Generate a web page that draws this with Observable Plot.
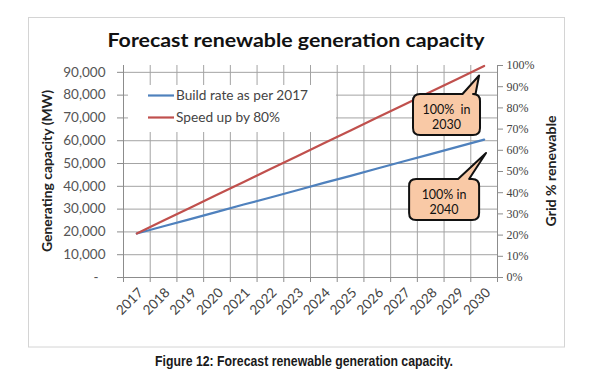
<!DOCTYPE html>
<html>
<head>
<meta charset="utf-8">
<script src="https://cdn.jsdelivr.net/npm/d3@7"></script>
<script src="https://cdn.jsdelivr.net/npm/@observablehq/plot@0.6"></script>
<style>
  html, body { margin: 0; padding: 0; background: #fff; }
  #chart svg { display: block; }
</style>
</head>
<body>
<div id="chart"></div>
<script>
// ---- data ----
const years = [2017, 2018, 2019, 2020, 2021, 2022, 2023, 2024, 2025, 2026, 2027, 2028, 2029, 2030];
const seriesNames = ["Build rate as per 2017", "Speed up by 80%"];
const seriesColors = ["#4F81BD", "#C0504D"];
const buildRate = [19300, 22500, 25600, 28800, 32000, 35100, 38300, 41500, 44600, 47800, 51000, 54100, 57300, 60500];
const speedUp   = [19300, 25000, 30600, 36300, 41900, 47600, 53200, 58900, 64500, 70200, 75800, 81500, 87100, 92800];
const yTicks = [0, 10000, 20000, 30000, 40000, 50000, 60000, 70000, 80000, 90000];
const pctTicks = [0, 10, 20, 30, 40, 50, 60, 70, 80, 90, 100];
const fullMW = 93000; // capacity equal to 100% renewable grid (top of the chart)
const yearBounds = [2016.5, 2017.5, 2018.5, 2019.5, 2020.5, 2021.5, 2022.5, 2023.5, 2024.5, 2025.5, 2026.5, 2027.5, 2028.5, 2029.5, 2030.5];
const callouts = [
  {lines: ["100%  in", "2030"], boxYear: 2028.61, boxValue: 71300, tipYear: 2029.83, tipValue: 88400},
  {lines: ["100% in", "2040"], boxYear: 2028.52, boxValue: 34000, tipYear: 2030.09, tipValue: 54400}
];
const titleText = "Forecast renewable generation capacity";
const yLabel = "Generating capacity (MW)";
const y2Label = "Grid % renewable";
const captionText = "Figure 12: Forecast renewable generation capacity.";

const rows = [];
years.forEach((yr, i) => {
  rows.push({year: yr, value: buildRate[i], series: seriesNames[0]});
  rows.push({year: yr, value: speedUp[i], series: seriesNames[1]});
});

const grid = "#a3a3a3";
const axisCol = "#8c8c8c";

const plot = Plot.plot({
  width: 590,
  height: 380,
  marginLeft: 123,
  marginRight: 93,
  marginTop: 65,
  marginBottom: 103,
  style: {fontFamily: "Lato, 'Open Sans', sans-serif", background: "#fff", overflow: "visible"},
  x: {domain: [2016.5, 2030.5]},
  y: {domain: [0, fullMW]},
  color: {domain: seriesNames, range: seriesColors},
  marks: [
    Plot.gridY(yTicks, {stroke: grid, strokeOpacity: 1}),
    Plot.gridX(yearBounds, {stroke: grid, strokeOpacity: 1}),
    Plot.ruleY([0], {stroke: axisCol}),
    Plot.ruleX([2016.5, 2030.5], {stroke: axisCol}),
    Plot.axisY(yTicks, {
      anchor: "left", tickSize: 6, tickPadding: 12, label: null,
      tickFormat: d => d === 0 ? "-\u00a0\u00a0" : d3.format(",")(d),
      fontSize: 13.5, fill: "#555", stroke: axisCol
    }),
    Plot.axisY(pctTicks.map(p => p / 100 * fullMW), {
      anchor: "right", tickSize: 5, tickPadding: 4, label: null,
      tickFormat: d => Math.round(d / fullMW * 100) + "%",
      fontFamily: "'Liberation Serif', serif", fontSize: 12, fill: "#444", stroke: axisCol
    }),
    Plot.axisX(yearBounds, {anchor: "bottom", tickSize: 5, tickFormat: () => "", label: null, stroke: axisCol}),
    Plot.axisX(years, {
      anchor: "bottom", tickSize: 0, tickPadding: 13, dx: 4, tickRotate: -45, label: null,
      tickFormat: d => String(d), fontSize: 13.5, fill: "#444"
    }),
    Plot.line(rows, {x: "year", y: "value", z: "series", stroke: "series", strokeWidth: 2.2})
  ]
});

document.getElementById("chart").appendChild(plot);

// ---- annotations drawn on the plot's own scales ----
const svg = d3.select(plot);
const sx = plot.scale("x"), sy = plot.scale("y");
const X = v => sx.apply(v), Y = v => sy.apply(v);

// outer frame
svg.insert("rect", ":first-child")
  .attr("x", 28.5).attr("y", 17.5).attr("width", 536).attr("height", 329.5)
  .attr("fill", "none").attr("stroke", "#d4d4d4");

// title
svg.append("text")
  .attr("x", 296).attr("y", 47).attr("text-anchor", "middle")
  .attr("font-family", "Lato, sans-serif").attr("font-weight", "bold").attr("font-size", 18.5)
  .attr("fill", "#111").attr("textLength", 377).attr("lengthAdjust", "spacingAndGlyphs")
  .text(titleText);

// axis titles
svg.append("text")
  .attr("transform", `translate(52,171) rotate(-90)`).attr("text-anchor", "middle")
  .attr("font-family", "Lato, sans-serif").attr("font-weight", "bold").attr("font-size", 14)
  .attr("fill", "#222").attr("textLength", 162).attr("lengthAdjust", "spacingAndGlyphs")
  .text(yLabel);
svg.append("text")
  .attr("transform", `translate(556,171) rotate(-90)`).attr("text-anchor", "middle")
  .attr("font-family", "Lato, sans-serif").attr("font-weight", "bold").attr("font-size", 14)
  .attr("fill", "#222").attr("textLength", 111).attr("lengthAdjust", "spacingAndGlyphs")
  .text(y2Label);

// legend
const lg = svg.append("g").attr("text-anchor", "start");
lg.append("rect").attr("x", 128).attr("y", 85).attr("width", 208).attr("height", 47).attr("fill", "#fff");
const legendLen = [132, 104];
seriesNames.forEach((name, i) => {
  const by = 100 + i * 22;
  lg.append("line").attr("x1", 148).attr("x2", 174).attr("y1", by - 4.5).attr("y2", by - 4.5)
    .attr("stroke", seriesColors[i]).attr("stroke-width", 2.2);
  lg.append("text").attr("x", 176).attr("y", by).attr("text-anchor", "start")
    .attr("font-family", "Lato, sans-serif").attr("font-size", 14).attr("fill", "#444")
    .attr("textLength", legendLen[i]).attr("lengthAdjust", "spacingAndGlyphs")
    .text(name);
});

// callouts
const boxSizes = [[67, 41], [70, 41]];
const baseOffsets = [[16, 29], [14, 25]];
callouts.forEach((c, i) => {
  const cx = X(c.boxYear), cy = Y(c.boxValue);
  const [w, h] = boxSizes[i];
  const l = cx - w / 2, r = cx + w / 2, t = cy - h / 2, b = cy + h / 2, rr = 7;
  const tx = X(c.tipYear), ty = Y(c.tipValue);
  const b1 = cx + baseOffsets[i][0], b2 = cx + baseOffsets[i][1];
  const p = d3.path();
  p.moveTo(l + rr, t);
  p.lineTo(b1, t);
  p.lineTo(tx, ty);
  p.lineTo(b2, t);
  p.lineTo(r - rr, t);
  p.quadraticCurveTo(r, t, r, t + rr);
  p.lineTo(r, b - rr);
  p.quadraticCurveTo(r, b, r - rr, b);
  p.lineTo(l + rr, b);
  p.quadraticCurveTo(l, b, l, b - rr);
  p.lineTo(l, t + rr);
  p.quadraticCurveTo(l, t, l + rr, t);
  p.closePath();
  svg.append("path").attr("d", p.toString())
    .attr("fill", "#F9C9A6").attr("stroke", "#111").attr("stroke-width", 2).attr("stroke-linejoin", "round");
  c.lines.forEach((ln, j) => {
    svg.append("text").attr("x", cx).attr("y", cy + j * 14.5)
      .attr("text-anchor", "middle").attr("font-family", "Lato, sans-serif").attr("font-size", 12.5)
      .attr("fill", "#111").attr("xml:space", "preserve").style("white-space", "pre")
      .text(ln);
  });
});

// caption
svg.append("text")
  .attr("x", 304).attr("y", 366).attr("text-anchor", "middle")
  .attr("font-family", "'Liberation Sans Narrow', 'Liberation Sans', Arial, sans-serif")
  .attr("font-weight", "bold").attr("font-size", 15).attr("fill", "#1a1a1a")
  .attr("textLength", 298).attr("lengthAdjust", "spacingAndGlyphs")
  .text(captionText);
</script>
</body>
</html>
